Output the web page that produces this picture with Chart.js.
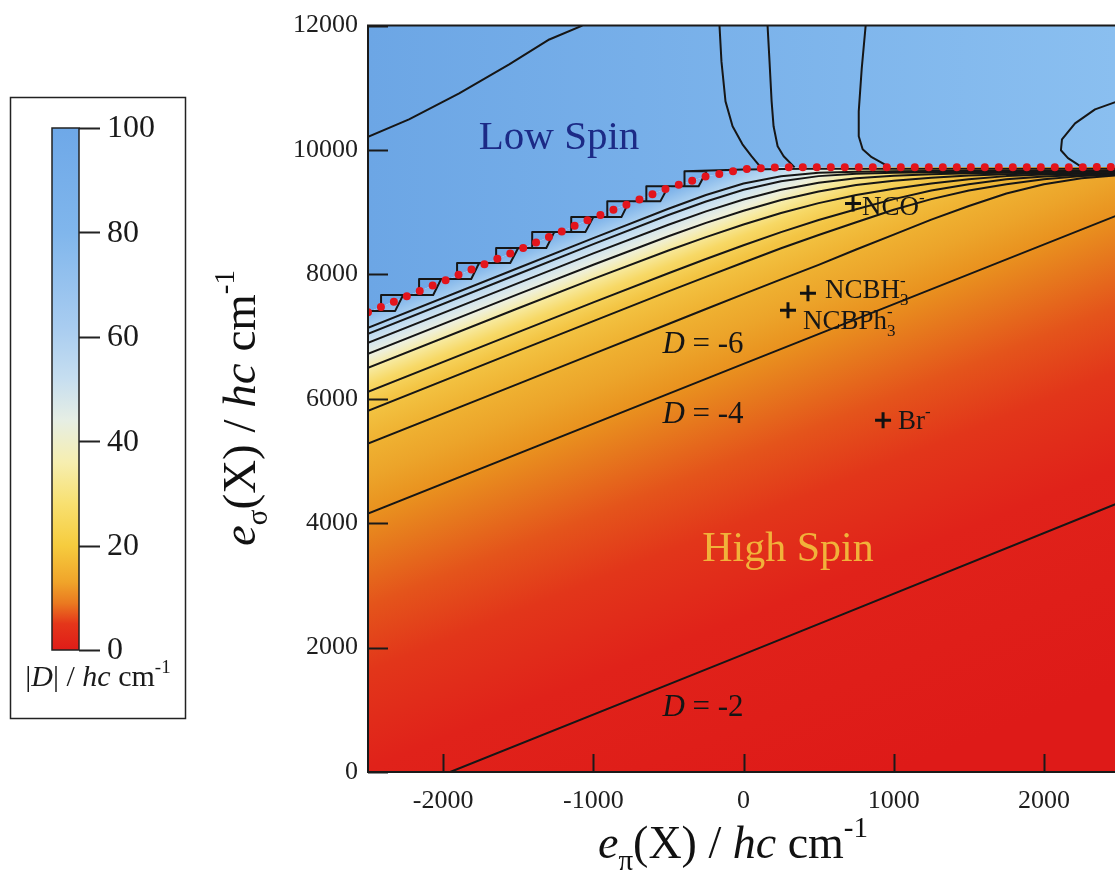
<!DOCTYPE html>
<html lang="en">
<head>
<meta charset="UTF-8">
<title>Spin state map</title>
<script src="https://cdn.jsdelivr.net/npm/chart.js"></script>
<style>
  html, body { margin: 0; padding: 0; background: #fff; overflow: hidden; }
  canvas { display: block; }
</style>
</head>
<body>
<canvas id="map" width="1115" height="876"></canvas>
<script>
// tick labels
const xTicks = [-2000, -1000, 0, 1000, 2000];
const yTicks = [0, 2000, 4000, 6000, 8000, 10000, 12000];
const barTicks = [0, 20, 40, 60, 80, 100];

// |D| contours in the high spin region, all on one e_pi grid
const gridX = [-2500, -1500, -1000, -500, -250, 0, 250, 500, 750, 1000, 1250, 1500, 1750, 2000, 2250, 2500];
const hs1 = [7140, 8103, 8584, 9056, 9277, 9462, 9579, 9633, 9651, 9659, 9662, 9664, 9665, 9665, 9665, 9665];
const hs2 = [7044, 8006, 8486, 8955, 9173, 9361, 9499, 9580, 9617, 9633, 9642, 9648, 9652, 9655, 9655, 9655];
const hs3 = [6899, 7860, 8337, 8799, 9014, 9205, 9362, 9475, 9547, 9587, 9610, 9625, 9635, 9640, 9643, 9645];
const hs4 = [6723, 7682, 8156, 8613, 8828, 9024, 9195, 9333, 9436, 9505, 9555, 9590, 9612, 9625, 9632, 9635];
const hs5 = [6498, 7456, 7928, 8385, 8600, 8802, 8987, 9146, 9277, 9378, 9460, 9530, 9580, 9605, 9618, 9625];
const hs6 = [6113, 7073, 7551, 8019, 8247, 8469, 8680, 8874, 9048, 9210, 9350, 9450, 9530, 9575, 9600, 9615];
const hs7 = [5808, 6771, 7249, 7727, 7960, 8192, 8420, 8634, 8839, 9040, 9210, 9350, 9450, 9530, 9580, 9605];
const dMinus6 = [5279, 6241, 6723, 7203, 7443, 7682, 7920, 8154, 8400, 8640, 8880, 9100, 9300, 9450, 9545, 9595];

// the two straight contours
const dMinus4X = [-2500, 0, 2500];
const dMinus4Y = [4156, 6562, 8960];
const dMinus2X = [-1953, 0, 2500];
const dMinus2Y = [0, 1890, 4330];

// contours inside the low spin region
const lsAX = [-2500, -2227, -1893, -1560, -1293, -1073];
const lsAY = [10210, 10493, 10911, 11376, 11777, 12000];
const lsBX = [-160, -147, -120, -73, -7, 53, 115];
const lsBY = [12000, 11424, 10782, 10381, 10092, 9900, 9720];
const lsCX = [160, 173, 187, 200, 227, 267, 340];
const lsCY = [12000, 11424, 10782, 10381, 10060, 9900, 9720];
const lsDX = [813, 787, 767, 767, 793, 853, 975];
const lsDY = [12000, 11312, 10622, 10221, 10012, 9884, 9720];
const lsEX = [2500, 2340, 2207, 2120, 2113, 2160, 2255];
const lsEY = [10790, 10654, 10429, 10172, 9996, 9868, 9720];

// jagged spin crossover contour
const stairX = [-2500,
  -2319, -2266, -2413, -2413, -2413,
  -2066, -2013, -2160, -2160, -2160,
  -1813, -1760, -1907, -1907, -1907,
  -1553, -1500, -1647, -1647, -1647,
  -1313, -1260, -1407, -1407, -1407,
  -1053, -1000, -1147, -1147, -1147,
  -813, -760, -907, -907, -907,
  -553, -500, -647, -647, -647,
  -299, -246, -393, -393, -393,
  0, 400, 2500];
const stairY = [7413,
  7413, 7669, 7669, 7413, 7669,
  7669, 7926, 7926, 7669, 7926,
  7926, 8183, 8183, 7926, 8183,
  8183, 8424, 8424, 8183, 8424,
  8424, 8680, 8680, 8424, 8680,
  8680, 8921, 8921, 8680, 8921,
  8921, 9178, 9178, 8921, 9178,
  9178, 9418, 9418, 9178, 9418,
  9418, 9659, 9659, 9418, 9659,
  9685, 9700, 9700];

// red dotted LS/HS boundary
const boundaryX = [-2500, -2000, -1500, -1000, -500, -250, 0, 250, 2500];
const boundaryY = [7390, 7890, 8390, 8910, 9390, 9575, 9690, 9722, 9725];

// ligands
const ligandNames = ['NCO', 'NCBH3', 'NCBPh3', 'Br'];
const ligandEpi = [729, 429, 296, 929];
const ligandEsigma = [9141, 7695, 7422, 5655];

const SERIF = "'Liberation Serif', 'Times New Roman', serif";

function pts(xs, ys) {
  return xs.map((x, i) => ({ x: x, y: ys[i] }));
}

let hsGrad = null, lsGrad = null;
function highSpinColor(context) {
  const chart = context.chart;
  if (!chart.chartArea) return '#e0221a';
  if (!hsGrad) {
    // colour runs across the contour bands (normal to their slope)
    const g = chart.ctx.createLinearGradient(155.8, 389.8, 389.6, 974.4);
    g.addColorStop(0.000, '#6fa9e7');
    g.addColorStop(0.032, '#a6cdf0');
    g.addColorStop(0.057, '#d2e5f0');
    g.addColorStop(0.076, '#eef0dc');
    g.addColorStop(0.095, '#f7eaa0');
    g.addColorStop(0.119, '#f7d865');
    g.addColorStop(0.151, '#f3c443');
    g.addColorStop(0.203, '#efb232');
    g.addColorStop(0.254, '#eca42a');
    g.addColorStop(0.306, '#e9921f');
    g.addColorStop(0.365, '#e6781d');
    g.addColorStop(0.444, '#e4541b');
    g.addColorStop(0.540, '#e2361a');
    g.addColorStop(0.683, '#e0221a');
    g.addColorStop(1.000, '#de1a18');
    hsGrad = g;
  }
  return hsGrad;
}
function lowSpinColor(context) {
  const chart = context.chart;
  const a = chart.chartArea;
  if (!a) return '#78b0ea';
  if (!lsGrad) {
    const g = chart.ctx.createLinearGradient(a.left, 0, a.right, 0);
    g.addColorStop(0, '#6ca6e5');
    g.addColorStop(1, '#8abff0');
    lsGrad = g;
  }
  return lsGrad;
}

function contour(xs, ys) {
  return {
    data: pts(xs, ys), borderColor: '#161616', borderWidth: 2,
    pointRadius: 0, fill: false, order: 5, borderJoinStyle: 'round'
  };
}

// text with italic / subscript / superscript pieces
function richText(ctx, parts, x, y, size, align, color) {
  const font = p => (p.it ? 'italic ' : '') + Math.round((p.sub || p.sup) ? size * 0.62 : size) + 'px ' + SERIF;
  let total = 0;
  const widths = parts.map(p => {
    ctx.font = font(p);
    const w = ctx.measureText(p.t).width;
    if (!p.keep) total += w;
    return w;
  });
  let cx = align === 'center' ? x - total / 2 : (align === 'right' ? x - total : x);
  ctx.fillStyle = color;
  ctx.textAlign = 'left';
  ctx.textBaseline = 'alphabetic';
  parts.forEach((p, i) => {
    ctx.font = font(p);
    const dy = p.sub ? size * 0.25 : (p.sup ? -size * 0.45 : 0);
    ctx.fillText(p.t, cx, y + dy);
    if (!p.keep) cx += widths[i];
  });
}

const ligandParts = {
  NCO: [{ t: 'NCO' }, { t: '-', sup: true }],
  NCBH3: [{ t: 'NCBH' }, { t: '3', sub: true, keep: true }, { t: '-', sup: true }],
  NCBPh3: [{ t: 'NCBPh' }, { t: '3', sub: true, keep: true }, { t: '-', sup: true }],
  Br: [{ t: 'Br' }, { t: '-', sup: true }]
};
// label offset from the marker, in pixels
const ligandOffset = { NCO: [9, 12], NCBH3: [17, 5], NCBPh3: [15, 19], Br: [15, 9] };

const decorations = {
  id: 'decorations',
  beforeDraw(chart) {
    const ctx = chart.ctx;
    ctx.save();
    ctx.fillStyle = '#ffffff';
    ctx.fillRect(0, 0, chart.width, chart.height);
    ctx.restore();
  },
  afterDatasetsDraw(chart) {
    const ctx = chart.ctx;
    const a = chart.chartArea;
    const xs = chart.scales.x, ys = chart.scales.y;
    ctx.save();

    // frame (the right side runs off the page) and inward ticks
    ctx.strokeStyle = '#1a1a1a';
    ctx.lineWidth = 2;
    ctx.beginPath();
    ctx.moveTo(a.right + 2, a.top); ctx.lineTo(a.left, a.top);
    ctx.lineTo(a.left, a.bottom); ctx.lineTo(a.right + 2, a.bottom);
    yTicks.forEach(v => {
      const py = Math.round(ys.getPixelForValue(v)) + 0.5;
      ctx.moveTo(a.left, py); ctx.lineTo(a.left + 20, py);
    });
    xTicks.forEach(v => {
      const px = Math.round(xs.getPixelForValue(v)) + 0.5;
      ctx.moveTo(px, a.bottom); ctx.lineTo(px, a.bottom - 18);
    });
    ctx.stroke();

    // region labels
    ctx.textAlign = 'center';
    ctx.textBaseline = 'middle';
    ctx.font = '41px ' + SERIF;
    ctx.fillStyle = '#1c2a86';
    ctx.fillText('Low Spin', xs.getPixelForValue(-1228), ys.getPixelForValue(10185));
    ctx.font = '42px ' + SERIF;
    ctx.fillStyle = '#f1b23a';
    ctx.fillText('High Spin', xs.getPixelForValue(296), ys.getPixelForValue(3566));

    [['-6', 6908], ['-4', 5783], ['-2', 1076]].forEach(d => {
      const px = xs.getPixelForValue(-540);
      const py = ys.getPixelForValue(d[1]) + 11;
      richText(ctx, [{ t: 'D', it: true }, { t: ' = ' + d[0] }], px, py, 31, 'left', '#151515');
    });

    // ligand labels
    ligandNames.forEach((n, i) => {
      const px = xs.getPixelForValue(ligandEpi[i]) + ligandOffset[n][0];
      const py = ys.getPixelForValue(ligandEsigma[i]) + ligandOffset[n][1];
      richText(ctx, ligandParts[n], px, py, 27, 'left', '#161616');
    });

    // axis titles
    richText(ctx, [{ t: 'e', it: true }, { t: 'π', sub: true }, { t: '(X) / ' }, { t: 'hc', it: true },
      { t: ' cm' }, { t: '-1', sup: true }], 733, 858, 46, 'center', '#111');
    ctx.save();
    ctx.translate(255, 408);
    ctx.rotate(-Math.PI / 2);
    richText(ctx, [{ t: 'e', it: true }, { t: 'σ', sub: true }, { t: '(X) / ' }, { t: 'hc', it: true },
      { t: ' cm' }, { t: '-1', sup: true }], 0, 0, 47, 'center', '#111');
    ctx.restore();

    // colour bar
    const bx = 52, bTop = 128, bw = 27, bh = 522;
    const g = ctx.createLinearGradient(0, bTop + bh, 0, bTop);
    [[0, '#e01c18'], [0.05, '#e4361a'], [0.09, '#ea7a20'], [0.13, '#f0a42a'], [0.20, '#f6cc3e'],
     [0.28, '#f8e070'], [0.36, '#f6eeb0'], [0.44, '#e6eee4'], [0.52, '#c6def0'], [0.62, '#a8ccf0'],
     [0.80, '#80b6ec'], [1, '#6ea8e8']].forEach(s => g.addColorStop(s[0], s[1]));
    ctx.fillStyle = g;
    ctx.fillRect(bx, bTop, bw, bh);
    ctx.lineWidth = 1.5;
    ctx.strokeStyle = '#222';
    ctx.strokeRect(bx, bTop, bw, bh);
    ctx.strokeRect(10.5, 97.5, 175, 621);
    ctx.beginPath();
    barTicks.forEach(v => {
      const py = Math.round(bTop + bh - v / 100 * bh) + 0.5;
      ctx.moveTo(bx + bw, py); ctx.lineTo(bx + bw + 21, py);
    });
    ctx.lineWidth = 2;
    ctx.stroke();
    ctx.font = '32px ' + SERIF;
    ctx.fillStyle = '#1a1a1a';
    ctx.textAlign = 'left';
    ctx.textBaseline = 'middle';
    barTicks.forEach(v => ctx.fillText(String(v), 107, bTop + bh - v / 100 * bh + 1));
    richText(ctx, [{ t: '|' }, { t: 'D', it: true }, { t: '| / ' }, { t: 'hc', it: true }, { t: ' cm' },
      { t: '-1', sup: true }], 98, 686, 30, 'center', '#1a1a1a');

    ctx.restore();
  }
};

new Chart(document.getElementById('map'), {
  type: 'line',
  data: {
    datasets: [
      { data: pts(boundaryX, boundaryY), borderWidth: 0, pointRadius: 0, fill: 'end',
        backgroundColor: lowSpinColor, order: 10 },
      { data: pts(boundaryX, boundaryY), borderWidth: 0, pointRadius: 0, fill: 'start',
        backgroundColor: highSpinColor, order: 9 },
      contour(gridX, hs1), contour(gridX, hs2), contour(gridX, hs3), contour(gridX, hs4),
      contour(gridX, hs5), contour(gridX, hs6), contour(gridX, hs7), contour(gridX, dMinus6),
      contour(dMinus4X, dMinus4Y), contour(dMinus2X, dMinus2Y),
      contour(lsAX, lsAY), contour(lsBX, lsBY), contour(lsCX, lsCY), contour(lsDX, lsDY), contour(lsEX, lsEY),
      { data: pts(stairX, stairY), borderColor: '#161616', borderWidth: 2, pointRadius: 0,
        fill: false, order: 4, borderJoinStyle: 'round' },
      { data: pts(boundaryX, boundaryY), borderColor: '#e3141c', borderWidth: 8, borderDash: [0, 14],
        borderCapStyle: 'round', pointRadius: 0, fill: false, order: 2 },
      { data: pts(ligandEpi, ligandEsigma), showLine: false, pointStyle: 'cross', pointRadius: 8,
        pointBorderWidth: 3, pointBorderColor: '#111', order: 1 }
    ]
  },
  options: {
    responsive: false,
    animation: false,
    devicePixelRatio: 1,
    layout: { autoPadding: false, padding: { top: 25, right: 0, left: 0, bottom: 0 } },
    plugins: { legend: { display: false }, tooltip: { enabled: false } },
    elements: { line: { tension: 0 } },
    scales: {
      x: {
        type: 'linear', min: -2500, max: 2473,
        grid: { display: false, drawTicks: false }, border: { display: false },
        afterBuildTicks: s => { s.ticks = xTicks.map(v => ({ value: v })); },
        afterFit: s => { s.height = 104; },
        ticks: { font: { family: SERIF, size: 26 }, color: '#1e1e1e', padding: 14, maxRotation: 0,
          autoSkip: false, callback: v => String(v) }
      },
      y: {
        type: 'linear', min: 0, max: 12000,
        grid: { display: false, drawTicks: false }, border: { display: false },
        afterBuildTicks: s => { s.ticks = yTicks.map(v => ({ value: v })); },
        afterFit: s => { s.width = 368; },
        ticks: { font: { family: SERIF, size: 26 }, color: '#1e1e1e', padding: 10,
          autoSkip: false, callback: v => String(v) }
      }
    }
  },
  plugins: [decorations]
});
</script>
</body>
</html>
